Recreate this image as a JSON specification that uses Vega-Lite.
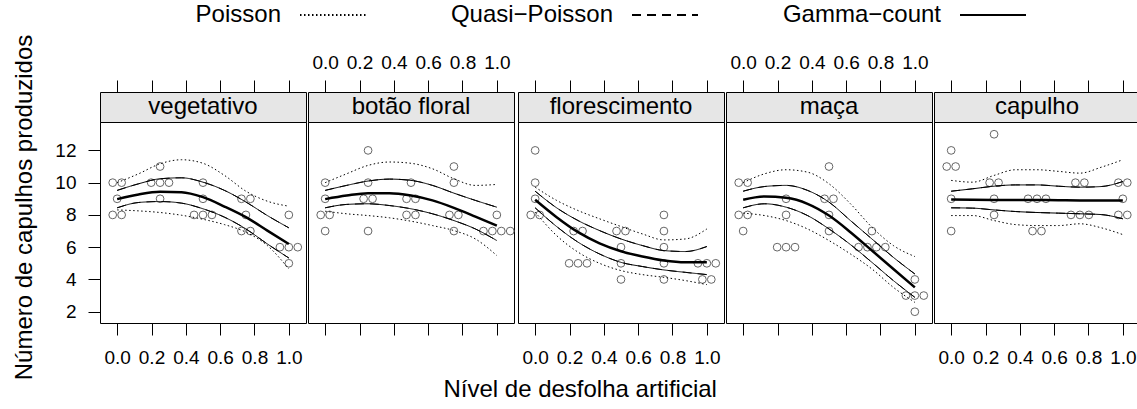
{
"$schema":"https://vega.github.io/schema/vega-lite/v6.json",
"padding":{"left":12,"top":3,"right":0,"bottom":4},
"title":{"text":"Nível de desfolha artificial","orient":"bottom","anchor":"middle","fontSize":24,"fontWeight":"normal","color":"black","offset":-2},
"config":{
 "font":"Liberation Sans",
 "view":{"stroke":"black","strokeWidth":1},
 "concat":{"spacing":0},
 "axis":{"domain":false,"grid":false,"tickColor":"black","tickSize":12,"tickWidth":1,"labelColor":"black","labelFontSize":19,"labelPadding":10,"titleFontSize":24,"titleFontWeight":"normal","titleColor":"black","labelOverlap":false,"labelFlush":false},
 "axisBottom":{"labelPadding":13},
 "axisTop":{"labelPadding":8},
 "axisLeft":{"labelPadding":12},
 "legend":{"orient":"none","legendX":221,"legendY":-89,"direction":"horizontal","title":null,"symbolType":"M-3,0H3","symbolSize":484,"symbolStrokeWidth":2,"symbolStrokeColor":"black","labelFontSize":24,"labelColor":"black","labelAlign":"right","labelOffset":-64,"columnPadding":80,"labelLimit":0,"padding":0}
},
"datasets":{
"pts":[
{"s":"vegetativo","x":-0.026,"y":10},{"s":"vegetativo","x":0.026,"y":10},{"s":"vegetativo","x":0,"y":9},{"s":"vegetativo","x":-0.026,"y":8},{"s":"vegetativo","x":0.026,"y":8},
{"s":"vegetativo","x":0.25,"y":11},{"s":"vegetativo","x":0.198,"y":10},{"s":"vegetativo","x":0.25,"y":10},{"s":"vegetativo","x":0.302,"y":10},{"s":"vegetativo","x":0.25,"y":9},
{"s":"vegetativo","x":0.5,"y":10},{"s":"vegetativo","x":0.5,"y":9},{"s":"vegetativo","x":0.448,"y":8},{"s":"vegetativo","x":0.5,"y":8},{"s":"vegetativo","x":0.552,"y":8},
{"s":"vegetativo","x":0.724,"y":9},{"s":"vegetativo","x":0.776,"y":9},{"s":"vegetativo","x":0.75,"y":8},{"s":"vegetativo","x":0.724,"y":7},{"s":"vegetativo","x":0.776,"y":7},
{"s":"vegetativo","x":1,"y":8},{"s":"vegetativo","x":0.948,"y":6},{"s":"vegetativo","x":1,"y":6},{"s":"vegetativo","x":1.052,"y":6},{"s":"vegetativo","x":1,"y":5},
{"s":"botão floral","x":0,"y":10},{"s":"botão floral","x":0,"y":9},{"s":"botão floral","x":-0.026,"y":8},{"s":"botão floral","x":0.026,"y":8},{"s":"botão floral","x":0,"y":7},
{"s":"botão floral","x":0.25,"y":12},{"s":"botão floral","x":0.25,"y":10},{"s":"botão floral","x":0.224,"y":9},{"s":"botão floral","x":0.276,"y":9},{"s":"botão floral","x":0.25,"y":7},
{"s":"botão floral","x":0.5,"y":10},{"s":"botão floral","x":0.474,"y":9},{"s":"botão floral","x":0.526,"y":9},{"s":"botão floral","x":0.474,"y":8},{"s":"botão floral","x":0.526,"y":8},
{"s":"botão floral","x":0.75,"y":11},{"s":"botão floral","x":0.75,"y":10},{"s":"botão floral","x":0.724,"y":8},{"s":"botão floral","x":0.776,"y":8},{"s":"botão floral","x":0.75,"y":7},
{"s":"botão floral","x":1,"y":8},{"s":"botão floral","x":0.922,"y":7},{"s":"botão floral","x":0.974,"y":7},{"s":"botão floral","x":1.026,"y":7},{"s":"botão floral","x":1.078,"y":7},
{"s":"florescimento","x":0,"y":12},{"s":"florescimento","x":0,"y":10},{"s":"florescimento","x":0,"y":9},{"s":"florescimento","x":-0.026,"y":8},{"s":"florescimento","x":0.026,"y":8},
{"s":"florescimento","x":0.224,"y":7},{"s":"florescimento","x":0.276,"y":7},{"s":"florescimento","x":0.198,"y":5},{"s":"florescimento","x":0.25,"y":5},{"s":"florescimento","x":0.302,"y":5},
{"s":"florescimento","x":0.474,"y":7},{"s":"florescimento","x":0.526,"y":7},{"s":"florescimento","x":0.5,"y":6},{"s":"florescimento","x":0.5,"y":5},{"s":"florescimento","x":0.5,"y":4},
{"s":"florescimento","x":0.75,"y":8},{"s":"florescimento","x":0.75,"y":7},{"s":"florescimento","x":0.75,"y":6},{"s":"florescimento","x":0.75,"y":5},{"s":"florescimento","x":0.75,"y":4},
{"s":"florescimento","x":0.948,"y":5},{"s":"florescimento","x":1,"y":5},{"s":"florescimento","x":1.052,"y":5},{"s":"florescimento","x":0.974,"y":4},{"s":"florescimento","x":1.026,"y":4},
{"s":"maça","x":-0.026,"y":10},{"s":"maça","x":0.026,"y":10},{"s":"maça","x":-0.026,"y":8},{"s":"maça","x":0.026,"y":8},{"s":"maça","x":0,"y":7},
{"s":"maça","x":0.25,"y":9},{"s":"maça","x":0.25,"y":8},{"s":"maça","x":0.198,"y":6},{"s":"maça","x":0.25,"y":6},{"s":"maça","x":0.302,"y":6},
{"s":"maça","x":0.5,"y":11},{"s":"maça","x":0.474,"y":9},{"s":"maça","x":0.526,"y":9},{"s":"maça","x":0.5,"y":8},{"s":"maça","x":0.5,"y":7},
{"s":"maça","x":0.75,"y":7},{"s":"maça","x":0.672,"y":6},{"s":"maça","x":0.724,"y":6},{"s":"maça","x":0.776,"y":6},{"s":"maça","x":0.828,"y":6},
{"s":"maça","x":1,"y":4},{"s":"maça","x":0.948,"y":3},{"s":"maça","x":1,"y":3},{"s":"maça","x":1.052,"y":3},{"s":"maça","x":1,"y":2},
{"s":"capulho","x":0,"y":12},{"s":"capulho","x":-0.026,"y":11},{"s":"capulho","x":0.026,"y":11},{"s":"capulho","x":0,"y":9},{"s":"capulho","x":0,"y":7},
{"s":"capulho","x":0.25,"y":13},{"s":"capulho","x":0.224,"y":10},{"s":"capulho","x":0.276,"y":10},{"s":"capulho","x":0.25,"y":9},{"s":"capulho","x":0.25,"y":8},
{"s":"capulho","x":0.448,"y":9},{"s":"capulho","x":0.5,"y":9},{"s":"capulho","x":0.552,"y":9},{"s":"capulho","x":0.474,"y":7},{"s":"capulho","x":0.526,"y":7},
{"s":"capulho","x":0.724,"y":10},{"s":"capulho","x":0.776,"y":10},{"s":"capulho","x":0.698,"y":8},{"s":"capulho","x":0.75,"y":8},{"s":"capulho","x":0.802,"y":8},
{"s":"capulho","x":0.974,"y":10},{"s":"capulho","x":1.026,"y":10},{"s":"capulho","x":1,"y":9},{"s":"capulho","x":0.974,"y":8},{"s":"capulho","x":1.026,"y":8}
],
"fit":[
{"s":"vegetativo","x":0,"y":8.98},{"s":"vegetativo","x":0.125,"y":9.27},{"s":"vegetativo","x":0.25,"y":9.43},{"s":"vegetativo","x":0.375,"y":9.41},{"s":"vegetativo","x":0.5,"y":9.1},{"s":"vegetativo","x":0.625,"y":8.52},{"s":"vegetativo","x":0.75,"y":7.86},{"s":"vegetativo","x":0.875,"y":7.03},{"s":"vegetativo","x":1,"y":6.2},
{"s":"botão floral","x":0,"y":8.98},{"s":"botão floral","x":0.125,"y":9.2},{"s":"botão floral","x":0.25,"y":9.35},{"s":"botão floral","x":0.375,"y":9.35},{"s":"botão floral","x":0.5,"y":9.2},{"s":"botão floral","x":0.625,"y":8.9},{"s":"botão floral","x":0.75,"y":8.44},{"s":"botão floral","x":0.875,"y":7.9},{"s":"botão floral","x":1,"y":7.34},
{"s":"florescimento","x":0,"y":8.94},{"s":"florescimento","x":0.125,"y":7.86},{"s":"florescimento","x":0.25,"y":6.93},{"s":"florescimento","x":0.375,"y":6.24},{"s":"florescimento","x":0.5,"y":5.75},{"s":"florescimento","x":0.625,"y":5.42},{"s":"florescimento","x":0.75,"y":5.17},{"s":"florescimento","x":0.875,"y":5.06},{"s":"florescimento","x":1,"y":5.06},
{"s":"maça","x":0,"y":8.94},{"s":"maça","x":0.125,"y":9.14},{"s":"maça","x":0.25,"y":9.06},{"s":"maça","x":0.375,"y":8.69},{"s":"maça","x":0.5,"y":7.96},{"s":"maça","x":0.625,"y":6.93},{"s":"maça","x":0.75,"y":5.79},{"s":"maça","x":0.875,"y":4.65},{"s":"maça","x":1,"y":3.51},
{"s":"capulho","x":0,"y":8.95},{"s":"capulho","x":0.125,"y":8.94},{"s":"capulho","x":0.25,"y":8.93},{"s":"capulho","x":0.375,"y":8.92},{"s":"capulho","x":0.5,"y":8.92},{"s":"capulho","x":0.625,"y":8.91},{"s":"capulho","x":0.75,"y":8.9},{"s":"capulho","x":0.875,"y":8.9},{"s":"capulho","x":1,"y":8.89}
],
"bands":[
{"s":"vegetativo","m":"Poisson","x":0,"lo":8.31,"hi":10.0},{"s":"vegetativo","m":"Poisson","x":0.125,"lo":8.25,"hi":10.55},{"s":"vegetativo","m":"Poisson","x":0.25,"lo":8.15,"hi":11.17},{"s":"vegetativo","m":"Poisson","x":0.375,"lo":7.98,"hi":11.42},{"s":"vegetativo","m":"Poisson","x":0.5,"lo":7.73,"hi":11.2},{"s":"vegetativo","m":"Poisson","x":0.625,"lo":7.4,"hi":10.45},{"s":"vegetativo","m":"Poisson","x":0.75,"lo":6.93,"hi":9.47},{"s":"vegetativo","m":"Poisson","x":0.875,"lo":6.1,"hi":8.85},{"s":"vegetativo","m":"Poisson","x":1,"lo":4.65,"hi":8.54},
{"s":"vegetativo","m":"Quasi−Poisson","x":0,"lo":8.44,"hi":9.52},{"s":"vegetativo","m":"Quasi−Poisson","x":0.125,"lo":8.77,"hi":9.93},{"s":"vegetativo","m":"Quasi−Poisson","x":0.25,"lo":8.83,"hi":10.24},{"s":"vegetativo","m":"Quasi−Poisson","x":0.375,"lo":8.73,"hi":10.3},{"s":"vegetativo","m":"Quasi−Poisson","x":0.5,"lo":8.38,"hi":10.03},{"s":"vegetativo","m":"Quasi−Poisson","x":0.625,"lo":7.86,"hi":9.52},{"s":"vegetativo","m":"Quasi−Poisson","x":0.75,"lo":7.13,"hi":8.8},{"s":"vegetativo","m":"Quasi−Poisson","x":0.875,"lo":6.2,"hi":7.96},{"s":"vegetativo","m":"Quasi−Poisson","x":1,"lo":5.33,"hi":7.2},
{"s":"vegetativo","m":"Gamma−count","x":0,"lo":8.44,"hi":9.52},{"s":"vegetativo","m":"Gamma−count","x":0.125,"lo":8.77,"hi":9.93},{"s":"vegetativo","m":"Gamma−count","x":0.25,"lo":8.83,"hi":10.24},{"s":"vegetativo","m":"Gamma−count","x":0.375,"lo":8.73,"hi":10.3},{"s":"vegetativo","m":"Gamma−count","x":0.5,"lo":8.38,"hi":10.03},{"s":"vegetativo","m":"Gamma−count","x":0.625,"lo":7.86,"hi":9.52},{"s":"vegetativo","m":"Gamma−count","x":0.75,"lo":7.13,"hi":8.8},{"s":"vegetativo","m":"Gamma−count","x":0.875,"lo":6.2,"hi":7.96},{"s":"vegetativo","m":"Gamma−count","x":1,"lo":5.33,"hi":7.2},
{"s":"botão floral","m":"Poisson","x":0,"lo":8.23,"hi":10.0},{"s":"botão floral","m":"Poisson","x":0.125,"lo":8.07,"hi":10.55},{"s":"botão floral","m":"Poisson","x":0.25,"lo":7.96,"hi":11.07},{"s":"botão floral","m":"Poisson","x":0.375,"lo":7.82,"hi":11.28},{"s":"botão floral","m":"Poisson","x":0.5,"lo":7.61,"hi":11.2},{"s":"botão floral","m":"Poisson","x":0.625,"lo":7.34,"hi":10.86},{"s":"botão floral","m":"Poisson","x":0.75,"lo":7.03,"hi":10.24},{"s":"botão floral","m":"Poisson","x":0.875,"lo":6.51,"hi":9.83},{"s":"botão floral","m":"Poisson","x":1,"lo":5.48,"hi":9.89},
{"s":"botão floral","m":"Quasi−Poisson","x":0,"lo":8.44,"hi":9.52},{"s":"botão floral","m":"Quasi−Poisson","x":0.125,"lo":8.65,"hi":9.83},{"s":"botão floral","m":"Quasi−Poisson","x":0.25,"lo":8.69,"hi":10.1},{"s":"botão floral","m":"Quasi−Poisson","x":0.375,"lo":8.58,"hi":10.22},{"s":"botão floral","m":"Quasi−Poisson","x":0.5,"lo":8.38,"hi":10.14},{"s":"botão floral","m":"Quasi−Poisson","x":0.625,"lo":8.07,"hi":9.83},{"s":"botão floral","m":"Quasi−Poisson","x":0.75,"lo":7.65,"hi":9.35},{"s":"botão floral","m":"Quasi−Poisson","x":0.875,"lo":7.13,"hi":8.9},{"s":"botão floral","m":"Quasi−Poisson","x":1,"lo":6.41,"hi":8.48},
{"s":"botão floral","m":"Gamma−count","x":0,"lo":8.44,"hi":9.52},{"s":"botão floral","m":"Gamma−count","x":0.125,"lo":8.65,"hi":9.83},{"s":"botão floral","m":"Gamma−count","x":0.25,"lo":8.69,"hi":10.1},{"s":"botão floral","m":"Gamma−count","x":0.375,"lo":8.58,"hi":10.22},{"s":"botão floral","m":"Gamma−count","x":0.5,"lo":8.38,"hi":10.14},{"s":"botão floral","m":"Gamma−count","x":0.625,"lo":8.07,"hi":9.83},{"s":"botão floral","m":"Gamma−count","x":0.75,"lo":7.65,"hi":9.35},{"s":"botão floral","m":"Gamma−count","x":0.875,"lo":7.13,"hi":8.9},{"s":"botão floral","m":"Gamma−count","x":1,"lo":6.41,"hi":8.48},
{"s":"florescimento","m":"Poisson","x":0,"lo":8.17,"hi":9.72},{"s":"florescimento","m":"Poisson","x":0.125,"lo":6.72,"hi":8.9},{"s":"florescimento","m":"Poisson","x":0.25,"lo":5.69,"hi":8.27},{"s":"florescimento","m":"Poisson","x":0.375,"lo":5.0,"hi":7.76},{"s":"florescimento","m":"Poisson","x":0.5,"lo":4.55,"hi":7.28},{"s":"florescimento","m":"Poisson","x":0.625,"lo":4.3,"hi":6.82},{"s":"florescimento","m":"Poisson","x":0.75,"lo":4.13,"hi":6.45},{"s":"florescimento","m":"Poisson","x":0.875,"lo":3.93,"hi":6.51},{"s":"florescimento","m":"Poisson","x":1,"lo":3.68,"hi":7.13},
{"s":"florescimento","m":"Quasi−Poisson","x":0,"lo":8.44,"hi":9.47},{"s":"florescimento","m":"Quasi−Poisson","x":0.125,"lo":7.28,"hi":8.44},{"s":"florescimento","m":"Quasi−Poisson","x":0.25,"lo":6.31,"hi":7.65},{"s":"florescimento","m":"Quasi−Poisson","x":0.375,"lo":5.58,"hi":7.03},{"s":"florescimento","m":"Quasi−Poisson","x":0.5,"lo":5.06,"hi":6.51},{"s":"florescimento","m":"Quasi−Poisson","x":0.625,"lo":4.8,"hi":6.1},{"s":"florescimento","m":"Quasi−Poisson","x":0.75,"lo":4.59,"hi":5.79},{"s":"florescimento","m":"Quasi−Poisson","x":0.875,"lo":4.44,"hi":5.73},{"s":"florescimento","m":"Quasi−Poisson","x":1,"lo":4.3,"hi":6.04},
{"s":"florescimento","m":"Gamma−count","x":0,"lo":8.44,"hi":9.47},{"s":"florescimento","m":"Gamma−count","x":0.125,"lo":7.28,"hi":8.44},{"s":"florescimento","m":"Gamma−count","x":0.25,"lo":6.31,"hi":7.65},{"s":"florescimento","m":"Gamma−count","x":0.375,"lo":5.58,"hi":7.03},{"s":"florescimento","m":"Gamma−count","x":0.5,"lo":5.06,"hi":6.51},{"s":"florescimento","m":"Gamma−count","x":0.625,"lo":4.8,"hi":6.1},{"s":"florescimento","m":"Gamma−count","x":0.75,"lo":4.59,"hi":5.79},{"s":"florescimento","m":"Gamma−count","x":0.875,"lo":4.44,"hi":5.73},{"s":"florescimento","m":"Gamma−count","x":1,"lo":4.3,"hi":6.04},
{"s":"maça","m":"Poisson","x":0,"lo":8.11,"hi":10.0},{"s":"maça","m":"Poisson","x":0.125,"lo":7.96,"hi":10.55},{"s":"maça","m":"Poisson","x":0.25,"lo":7.65,"hi":10.8},{"s":"maça","m":"Poisson","x":0.375,"lo":7.13,"hi":10.65},{"s":"maça","m":"Poisson","x":0.5,"lo":6.41,"hi":9.93},{"s":"maça","m":"Poisson","x":0.625,"lo":5.58,"hi":8.69},{"s":"maça","m":"Poisson","x":0.75,"lo":4.65,"hi":7.24},{"s":"maça","m":"Poisson","x":0.875,"lo":3.51,"hi":6.1},{"s":"maça","m":"Poisson","x":1,"lo":2.58,"hi":5.42},
{"s":"maça","m":"Quasi−Poisson","x":0,"lo":8.44,"hi":9.47},{"s":"maça","m":"Quasi−Poisson","x":0.125,"lo":8.69,"hi":9.76},{"s":"maça","m":"Quasi−Poisson","x":0.25,"lo":8.48,"hi":9.83},{"s":"maça","m":"Quasi−Poisson","x":0.375,"lo":7.96,"hi":9.52},{"s":"maça","m":"Quasi−Poisson","x":0.5,"lo":7.13,"hi":8.79},{"s":"maça","m":"Quasi−Poisson","x":0.625,"lo":6.16,"hi":7.65},{"s":"maça","m":"Quasi−Poisson","x":0.75,"lo":5.06,"hi":6.51},{"s":"maça","m":"Quasi−Poisson","x":0.875,"lo":3.93,"hi":5.37},{"s":"maça","m":"Quasi−Poisson","x":1,"lo":2.89,"hi":4.34},
{"s":"maça","m":"Gamma−count","x":0,"lo":8.44,"hi":9.47},{"s":"maça","m":"Gamma−count","x":0.125,"lo":8.69,"hi":9.76},{"s":"maça","m":"Gamma−count","x":0.25,"lo":8.48,"hi":9.83},{"s":"maça","m":"Gamma−count","x":0.375,"lo":7.96,"hi":9.52},{"s":"maça","m":"Gamma−count","x":0.5,"lo":7.13,"hi":8.79},{"s":"maça","m":"Gamma−count","x":0.625,"lo":6.16,"hi":7.65},{"s":"maça","m":"Gamma−count","x":0.75,"lo":5.06,"hi":6.51},{"s":"maça","m":"Gamma−count","x":0.875,"lo":3.93,"hi":5.37},{"s":"maça","m":"Gamma−count","x":1,"lo":2.89,"hi":4.34},
{"s":"capulho","m":"Poisson","x":0,"lo":7.96,"hi":10.14},{"s":"capulho","m":"Poisson","x":0.125,"lo":7.96,"hi":10.03},{"s":"capulho","m":"Poisson","x":0.25,"lo":7.65,"hi":10.45},{"s":"capulho","m":"Poisson","x":0.375,"lo":7.4,"hi":10.8},{"s":"capulho","m":"Poisson","x":0.5,"lo":7.34,"hi":10.8},{"s":"capulho","m":"Poisson","x":0.625,"lo":7.34,"hi":10.7},{"s":"capulho","m":"Poisson","x":0.75,"lo":7.45,"hi":10.59},{"s":"capulho","m":"Poisson","x":0.875,"lo":7.2,"hi":10.96},{"s":"capulho","m":"Poisson","x":1,"lo":6.78,"hi":11.42},
{"s":"capulho","m":"Quasi−Poisson","x":0,"lo":8.44,"hi":9.47},{"s":"capulho","m":"Quasi−Poisson","x":0.125,"lo":8.42,"hi":9.62},{"s":"capulho","m":"Quasi−Poisson","x":0.25,"lo":8.31,"hi":9.78},{"s":"capulho","m":"Quasi−Poisson","x":0.375,"lo":8.21,"hi":9.86},{"s":"capulho","m":"Quasi−Poisson","x":0.5,"lo":8.15,"hi":9.86},{"s":"capulho","m":"Quasi−Poisson","x":0.625,"lo":8.11,"hi":9.78},{"s":"capulho","m":"Quasi−Poisson","x":0.75,"lo":8.07,"hi":9.72},{"s":"capulho","m":"Quasi−Poisson","x":0.875,"lo":8.02,"hi":9.76},{"s":"capulho","m":"Quasi−Poisson","x":1,"lo":7.76,"hi":10.07},
{"s":"capulho","m":"Gamma−count","x":0,"lo":8.44,"hi":9.47},{"s":"capulho","m":"Gamma−count","x":0.125,"lo":8.42,"hi":9.62},{"s":"capulho","m":"Gamma−count","x":0.25,"lo":8.31,"hi":9.78},{"s":"capulho","m":"Gamma−count","x":0.375,"lo":8.21,"hi":9.86},{"s":"capulho","m":"Gamma−count","x":0.5,"lo":8.15,"hi":9.86},{"s":"capulho","m":"Gamma−count","x":0.625,"lo":8.11,"hi":9.78},{"s":"capulho","m":"Gamma−count","x":0.75,"lo":8.07,"hi":9.72},{"s":"capulho","m":"Gamma−count","x":0.875,"lo":8.02,"hi":9.76},{"s":"capulho","m":"Gamma−count","x":1,"lo":7.76,"hi":10.07}
]
},
"hconcat":[
{"bounds":"flush","spacing":0,"vconcat":[
 {"width":206,"height":30,"view":{"fill":"#e6e6e6","stroke":"black"},"data":{"values":[{"s":"vegetativo"}]},"mark":{"type":"text","fontSize":24,"color":"black","baseline":"middle"},"encoding":{"text":{"field":"s"}}},
 {"width":206,"height":201,"resolve":{"axis":{"x":"independent"}},"layer":[
  {"data":{"name":"pts"},"transform":[{"filter":"datum.s=='vegetativo'"}],"mark":{"type":"point","shape":"circle","filled":false,"size":60,"color":"#666666","strokeWidth":1,"opacity":1},
   "encoding":{"x":{"field":"x","type":"quantitative","scale":{"domain":[-0.1,1.1],"zero":false,"nice":false},"axis":{"orient":"bottom","values":[0,0.2,0.4,0.6,0.8,1],"format":".1f","title":null,"labels":true}},
   "y":{"field":"y","type":"quantitative","scale":{"domain":[1.3,13.76],"zero":false,"nice":false},"axis":{"orient":"left","values":[2,4,6,8,10,12],"title":"Número de capulhos produzidos","titlePadding":18,"titleY":85}}}},
  {"data":{"name":"bands"},"transform":[{"filter":"datum.s=='vegetativo'"}],"mark":{"type":"line","color":"black","strokeWidth":1,"interpolate":"monotone"},
   "encoding":{"x":{"field":"x","type":"quantitative","scale":{"domain":[-0.1,1.1],"zero":false,"nice":false},"axis":{"orient":"top","offset":30,"values":[0,0.2,0.4,0.6,0.8,1],"format":".1f","title":null,"labels":false}},
   "y":{"field":"hi","type":"quantitative","scale":{"domain":[1.3,13.76],"zero":false,"nice":false}},
   "strokeDash":{"field":"m","type":"nominal","scale":{"domain":["Poisson","Quasi−Poisson","Gamma−count"],"range":[[1.5,2.5],[9,6],[1,0]]},"legend":{"orient":"none"}}}},
  {"data":{"name":"bands"},"transform":[{"filter":"datum.s=='vegetativo'"}],"mark":{"type":"line","color":"black","strokeWidth":1,"interpolate":"monotone"},
   "encoding":{"x":{"field":"x","type":"quantitative","scale":{"domain":[-0.1,1.1],"zero":false,"nice":false},"axis":null},
   "y":{"field":"lo","type":"quantitative","scale":{"domain":[1.3,13.76],"zero":false,"nice":false}},
   "strokeDash":{"field":"m","type":"nominal","scale":{"domain":["Poisson","Quasi−Poisson","Gamma−count"],"range":[[1.5,2.5],[9,6],[1,0]]}}}},
  {"data":{"name":"fit"},"transform":[{"filter":"datum.s=='vegetativo'"}],"mark":{"type":"line","color":"black","strokeWidth":2.5,"interpolate":"monotone"},
   "encoding":{"x":{"field":"x","type":"quantitative","scale":{"domain":[-0.1,1.1],"zero":false,"nice":false},"axis":null},
   "y":{"field":"y","type":"quantitative","scale":{"domain":[1.3,13.76],"zero":false,"nice":false}}}}
 ]}
]},
{"bounds":"flush","spacing":0,"vconcat":[
 {"width":206,"height":30,"view":{"fill":"#e6e6e6","stroke":"black"},"data":{"values":[{"s":"botão floral"}]},"mark":{"type":"text","fontSize":24,"color":"black","baseline":"middle"},"encoding":{"text":{"field":"s"}}},
 {"width":206,"height":201,"resolve":{"axis":{"x":"independent"}},"layer":[
  {"data":{"name":"pts"},"transform":[{"filter":"datum.s=='botão floral'"}],"mark":{"type":"point","shape":"circle","filled":false,"size":60,"color":"#666666","strokeWidth":1,"opacity":1},
   "encoding":{"x":{"field":"x","type":"quantitative","scale":{"domain":[-0.1,1.1],"zero":false,"nice":false},"axis":{"orient":"bottom","values":[0,0.2,0.4,0.6,0.8,1],"format":".1f","title":null,"labels":false}},
   "y":{"field":"y","type":"quantitative","scale":{"domain":[1.3,13.76],"zero":false,"nice":false},"axis":null}}},
  {"data":{"name":"bands"},"transform":[{"filter":"datum.s=='botão floral'"}],"mark":{"type":"line","color":"black","strokeWidth":1,"interpolate":"monotone"},
   "encoding":{"x":{"field":"x","type":"quantitative","scale":{"domain":[-0.1,1.1],"zero":false,"nice":false},"axis":{"orient":"top","offset":30,"values":[0,0.2,0.4,0.6,0.8,1],"format":".1f","title":null,"labels":true}},
   "y":{"field":"hi","type":"quantitative","scale":{"domain":[1.3,13.76],"zero":false,"nice":false},"axis":null},
   "strokeDash":{"field":"m","type":"nominal","scale":{"domain":["Poisson","Quasi−Poisson","Gamma−count"],"range":[[1.5,2.5],[9,6],[1,0]]}}}},
  {"data":{"name":"bands"},"transform":[{"filter":"datum.s=='botão floral'"}],"mark":{"type":"line","color":"black","strokeWidth":1,"interpolate":"monotone"},
   "encoding":{"x":{"field":"x","type":"quantitative","scale":{"domain":[-0.1,1.1],"zero":false,"nice":false},"axis":null},
   "y":{"field":"lo","type":"quantitative","scale":{"domain":[1.3,13.76],"zero":false,"nice":false},"axis":null},
   "strokeDash":{"field":"m","type":"nominal","scale":{"domain":["Poisson","Quasi−Poisson","Gamma−count"],"range":[[1.5,2.5],[9,6],[1,0]]}}}},
  {"data":{"name":"fit"},"transform":[{"filter":"datum.s=='botão floral'"}],"mark":{"type":"line","color":"black","strokeWidth":2.5,"interpolate":"monotone"},
   "encoding":{"x":{"field":"x","type":"quantitative","scale":{"domain":[-0.1,1.1],"zero":false,"nice":false},"axis":null},
   "y":{"field":"y","type":"quantitative","scale":{"domain":[1.3,13.76],"zero":false,"nice":false},"axis":null}}}
 ]}
]},
{"bounds":"flush","spacing":0,"vconcat":[
 {"width":206,"height":30,"view":{"fill":"#e6e6e6","stroke":"black"},"data":{"values":[{"s":"florescimento"}]},"mark":{"type":"text","fontSize":24,"color":"black","baseline":"middle"},"encoding":{"text":{"field":"s"}}},
 {"width":206,"height":201,"resolve":{"axis":{"x":"independent"}},"layer":[
  {"data":{"name":"pts"},"transform":[{"filter":"datum.s=='florescimento'"}],"mark":{"type":"point","shape":"circle","filled":false,"size":60,"color":"#666666","strokeWidth":1,"opacity":1},
   "encoding":{"x":{"field":"x","type":"quantitative","scale":{"domain":[-0.1,1.1],"zero":false,"nice":false},"axis":{"orient":"bottom","values":[0,0.2,0.4,0.6,0.8,1],"format":".1f","title":null,"labels":true}},
   "y":{"field":"y","type":"quantitative","scale":{"domain":[1.3,13.76],"zero":false,"nice":false},"axis":null}}},
  {"data":{"name":"bands"},"transform":[{"filter":"datum.s=='florescimento'"}],"mark":{"type":"line","color":"black","strokeWidth":1,"interpolate":"monotone"},
   "encoding":{"x":{"field":"x","type":"quantitative","scale":{"domain":[-0.1,1.1],"zero":false,"nice":false},"axis":{"orient":"top","offset":30,"values":[0,0.2,0.4,0.6,0.8,1],"format":".1f","title":null,"labels":false}},
   "y":{"field":"hi","type":"quantitative","scale":{"domain":[1.3,13.76],"zero":false,"nice":false},"axis":null},
   "strokeDash":{"field":"m","type":"nominal","scale":{"domain":["Poisson","Quasi−Poisson","Gamma−count"],"range":[[1.5,2.5],[9,6],[1,0]]}}}},
  {"data":{"name":"bands"},"transform":[{"filter":"datum.s=='florescimento'"}],"mark":{"type":"line","color":"black","strokeWidth":1,"interpolate":"monotone"},
   "encoding":{"x":{"field":"x","type":"quantitative","scale":{"domain":[-0.1,1.1],"zero":false,"nice":false},"axis":null},
   "y":{"field":"lo","type":"quantitative","scale":{"domain":[1.3,13.76],"zero":false,"nice":false},"axis":null},
   "strokeDash":{"field":"m","type":"nominal","scale":{"domain":["Poisson","Quasi−Poisson","Gamma−count"],"range":[[1.5,2.5],[9,6],[1,0]]}}}},
  {"data":{"name":"fit"},"transform":[{"filter":"datum.s=='florescimento'"}],"mark":{"type":"line","color":"black","strokeWidth":2.5,"interpolate":"monotone"},
   "encoding":{"x":{"field":"x","type":"quantitative","scale":{"domain":[-0.1,1.1],"zero":false,"nice":false},"axis":null},
   "y":{"field":"y","type":"quantitative","scale":{"domain":[1.3,13.76],"zero":false,"nice":false},"axis":null}}}
 ]}
]},
{"bounds":"flush","spacing":0,"vconcat":[
 {"width":206,"height":30,"view":{"fill":"#e6e6e6","stroke":"black"},"data":{"values":[{"s":"maça"}]},"mark":{"type":"text","fontSize":24,"color":"black","baseline":"middle"},"encoding":{"text":{"field":"s"}}},
 {"width":206,"height":201,"resolve":{"axis":{"x":"independent"}},"layer":[
  {"data":{"name":"pts"},"transform":[{"filter":"datum.s=='maça'"}],"mark":{"type":"point","shape":"circle","filled":false,"size":60,"color":"#666666","strokeWidth":1,"opacity":1},
   "encoding":{"x":{"field":"x","type":"quantitative","scale":{"domain":[-0.1,1.1],"zero":false,"nice":false},"axis":{"orient":"bottom","values":[0,0.2,0.4,0.6,0.8,1],"format":".1f","title":null,"labels":false}},
   "y":{"field":"y","type":"quantitative","scale":{"domain":[1.3,13.76],"zero":false,"nice":false},"axis":null}}},
  {"data":{"name":"bands"},"transform":[{"filter":"datum.s=='maça'"}],"mark":{"type":"line","color":"black","strokeWidth":1,"interpolate":"monotone"},
   "encoding":{"x":{"field":"x","type":"quantitative","scale":{"domain":[-0.1,1.1],"zero":false,"nice":false},"axis":{"orient":"top","offset":30,"values":[0,0.2,0.4,0.6,0.8,1],"format":".1f","title":null,"labels":true}},
   "y":{"field":"hi","type":"quantitative","scale":{"domain":[1.3,13.76],"zero":false,"nice":false},"axis":null},
   "strokeDash":{"field":"m","type":"nominal","scale":{"domain":["Poisson","Quasi−Poisson","Gamma−count"],"range":[[1.5,2.5],[9,6],[1,0]]}}}},
  {"data":{"name":"bands"},"transform":[{"filter":"datum.s=='maça'"}],"mark":{"type":"line","color":"black","strokeWidth":1,"interpolate":"monotone"},
   "encoding":{"x":{"field":"x","type":"quantitative","scale":{"domain":[-0.1,1.1],"zero":false,"nice":false},"axis":null},
   "y":{"field":"lo","type":"quantitative","scale":{"domain":[1.3,13.76],"zero":false,"nice":false},"axis":null},
   "strokeDash":{"field":"m","type":"nominal","scale":{"domain":["Poisson","Quasi−Poisson","Gamma−count"],"range":[[1.5,2.5],[9,6],[1,0]]}}}},
  {"data":{"name":"fit"},"transform":[{"filter":"datum.s=='maça'"}],"mark":{"type":"line","color":"black","strokeWidth":2.5,"interpolate":"monotone"},
   "encoding":{"x":{"field":"x","type":"quantitative","scale":{"domain":[-0.1,1.1],"zero":false,"nice":false},"axis":null},
   "y":{"field":"y","type":"quantitative","scale":{"domain":[1.3,13.76],"zero":false,"nice":false},"axis":null}}}
 ]}
]},
{"bounds":"flush","spacing":0,"vconcat":[
 {"width":206,"height":30,"view":{"fill":"#e6e6e6","stroke":"black"},"data":{"values":[{"s":"capulho"}]},"mark":{"type":"text","fontSize":24,"color":"black","baseline":"middle"},"encoding":{"text":{"field":"s"}}},
 {"width":206,"height":201,"resolve":{"axis":{"x":"independent"}},"layer":[
  {"data":{"name":"pts"},"transform":[{"filter":"datum.s=='capulho'"}],"mark":{"type":"point","shape":"circle","filled":false,"size":60,"color":"#666666","strokeWidth":1,"opacity":1},
   "encoding":{"x":{"field":"x","type":"quantitative","scale":{"domain":[-0.1,1.1],"zero":false,"nice":false},"axis":{"orient":"bottom","values":[0,0.2,0.4,0.6,0.8,1],"format":".1f","title":null,"labels":true}},
   "y":{"field":"y","type":"quantitative","scale":{"domain":[1.3,13.76],"zero":false,"nice":false},"axis":{"orient":"right","values":[2,4,6,8,10,12],"labels":false,"tickSize":7,"title":null}}}},
  {"data":{"name":"bands"},"transform":[{"filter":"datum.s=='capulho'"}],"mark":{"type":"line","color":"black","strokeWidth":1,"interpolate":"monotone"},
   "encoding":{"x":{"field":"x","type":"quantitative","scale":{"domain":[-0.1,1.1],"zero":false,"nice":false},"axis":{"orient":"top","offset":30,"values":[0,0.2,0.4,0.6,0.8,1],"format":".1f","title":null,"labels":false}},
   "y":{"field":"hi","type":"quantitative","scale":{"domain":[1.3,13.76],"zero":false,"nice":false}},
   "strokeDash":{"field":"m","type":"nominal","scale":{"domain":["Poisson","Quasi−Poisson","Gamma−count"],"range":[[1.5,2.5],[9,6],[1,0]]}}}},
  {"data":{"name":"bands"},"transform":[{"filter":"datum.s=='capulho'"}],"mark":{"type":"line","color":"black","strokeWidth":1,"interpolate":"monotone"},
   "encoding":{"x":{"field":"x","type":"quantitative","scale":{"domain":[-0.1,1.1],"zero":false,"nice":false},"axis":null},
   "y":{"field":"lo","type":"quantitative","scale":{"domain":[1.3,13.76],"zero":false,"nice":false}},
   "strokeDash":{"field":"m","type":"nominal","scale":{"domain":["Poisson","Quasi−Poisson","Gamma−count"],"range":[[1.5,2.5],[9,6],[1,0]]}}}},
  {"data":{"name":"fit"},"transform":[{"filter":"datum.s=='capulho'"}],"mark":{"type":"line","color":"black","strokeWidth":2.5,"interpolate":"monotone"},
   "encoding":{"x":{"field":"x","type":"quantitative","scale":{"domain":[-0.1,1.1],"zero":false,"nice":false},"axis":null},
   "y":{"field":"y","type":"quantitative","scale":{"domain":[1.3,13.76],"zero":false,"nice":false}}}}
 ]}
]}
]
}
